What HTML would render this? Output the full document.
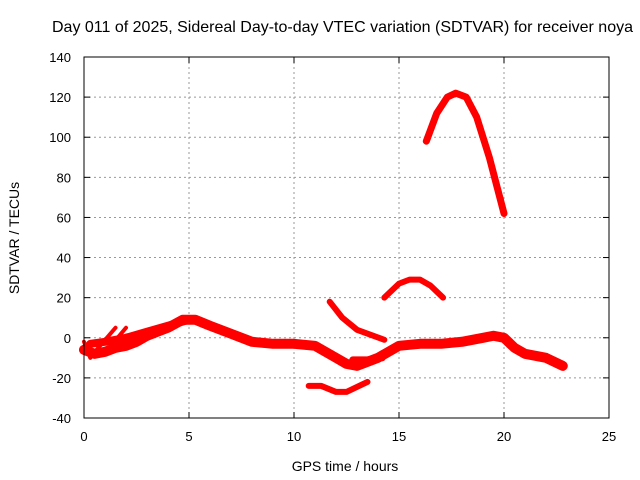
<!DOCTYPE html>
<html><head><meta charset="utf-8"><style>
body{margin:0;background:#fff}
svg{display:block;font-family:"Liberation Sans",sans-serif}
</style></head><body>
<svg id="chart" width="640" height="480">
<text x="52" y="32" font-size="16" text-anchor="start">Day 011 of 2025, Sidereal Day-to-day VTEC variation (SDTVAR) for receiver noya</text>
<g id="grid"></g>
<g id="marks"></g>
<rect x="84" y="57" width="525" height="361" fill="none" stroke="#000" stroke-width="1"/>
<g id="ticks"></g>
<text x="345" y="471" font-size="14" text-anchor="middle">GPS time / hours</text>
<text x="19" y="238" font-size="14" text-anchor="middle" transform="rotate(-90 19 238)">SDTVAR / TECUs</text>
</svg>
<script>
const xTicks=[0,5,10,15,20,25];
const yTicks=[-40,-20,0,20,40,60,80,100,120,140];
const mainX=[0,0.5,1,1.5,2,2.5,3,3.5,4,4.7,5.3,6,7,8,9,10,11,11.5,12,12.5,13,13.5,14,14.5,15,16,17,18,19,19.5,20,20.5,21,22,22.8];
const mainY=[-6,-8,-7,-5,-4,-2,1,3,5,9,9,6,2,-2,-3,-3,-4,-7,-10,-13,-14,-12,-10,-7,-4,-3,-3,-2,0,1,0,-5,-8,-10,-14];
const upperBandX=[0.3,1,2,3,4,5];
const upperBandY=[-3,-2,0,3,6,9];
const flatX=[12.8,13.5,14.2];
const flatY=[-11,-11,-10];
const lowX=[10.7,11.3,12,12.5,13.5];
const lowY=[-24,-24,-27,-27,-22];
const descX=[11.7,12.3,13,14.3];
const descY=[18,10,4,-1];
const arcX=[14.3,15,15.5,16,16.5,17.1];
const arcY=[20,27,29,29,26,20];
const bigX=[16.3,16.8,17.3,17.7,18.2,18.7,19.3,20];
const bigY=[98,112,120,122,120,110,90,62];
const spikeX=[[0.6,1.5],[1.2,2.0],[0,0.3]];
const spikeY=[[-6,5],[-5,5],[-2,-10]];
const X=v=>84+v*21, Y=v=>418-(v+40)*361/180;
const NS='http://www.w3.org/2000/svg';
const grid=document.getElementById('grid'),ticks=document.getElementById('ticks'),marks=document.getElementById('marks');
function mk(t,a,p){const e=document.createElementNS(NS,t);for(const k in a)e.setAttribute(k,a[k]);p.appendChild(e);return e;}
xTicks.forEach(t=>{
 if(t>0&&t<25){const g=mk('line',{x1:X(t),x2:X(t),y1:57,y2:418,stroke:'#999','stroke-dasharray':'2,3'},grid);
 
 }
 const l=mk('text',{x:X(t),y:441,'font-size':13,'text-anchor':'middle'},ticks);l.textContent=t;
 
 
 mk('line',{x1:X(t),x2:X(t),y1:418,y2:412,stroke:'#000'},ticks);mk('line',{x1:X(t),x2:X(t),y1:57,y2:63,stroke:'#000'},ticks);
});
yTicks.forEach(t=>{
 if(t>-40&&t<140){const g=mk('line',{x1:84,x2:609,y1:Y(t),y2:Y(t),stroke:'#999','stroke-dasharray':'2,3'},grid);
 
 }
 const l=mk('text',{x:71,y:Y(t)+5,'font-size':13,'text-anchor':'end'},ticks);l.textContent=t;
 
 
 mk('line',{x1:84,x2:90,y1:Y(t),y2:Y(t),stroke:'#000'},ticks);mk('line',{x1:603,x2:609,y1:Y(t),y2:Y(t),stroke:'#000'},ticks);
});
function series(xs,ys,w,name){
 const p=mk('polyline',{points:xs.map((x,i)=>X(x)+','+Y(ys[i])).join(' '),fill:'none',stroke:'#f00','stroke-width':w,'stroke-linejoin':'round','stroke-linecap':'round'},marks);
 
 
}
series(mainX,mainY,10,'main-band');
series(upperBandX,upperBandY,8,'upper-band');
series(flatX,flatY,7,'flat-segment');
series(lowX,lowY,6,'low-segment');
series(descX,descY,6,'descending-segment');
series(arcX,arcY,6,'arc-segment');
series(bigX,bigY,7,'peak-segment');
spikeX.forEach((sx,i)=>series(sx,spikeY[i],4,'spike-segment'));
</script>
</body></html>
